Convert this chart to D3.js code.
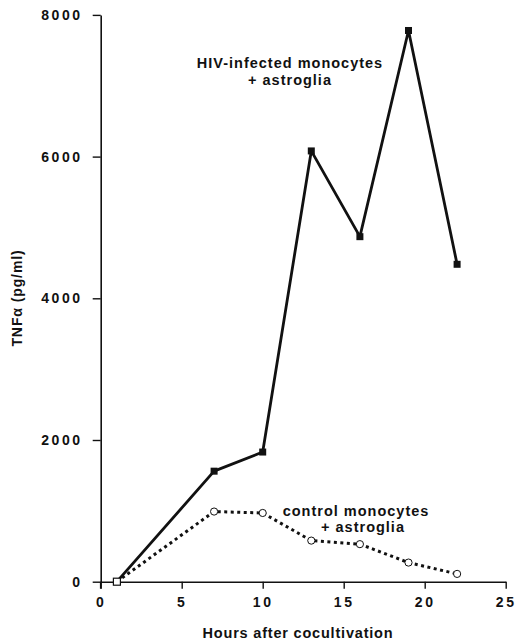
<!DOCTYPE html>
<html>
<head>
<meta charset="utf-8">
<script src="https://cdn.jsdelivr.net/npm/d3@7"></script>
<style>
  body { margin: 0; background: #fff; }
  text { font-family: "Liberation Sans", Arial, sans-serif; font-weight: bold; fill: #111; }
</style>
</head>
<body>
<div class="canvas"></div>
<script>
// data
const hours = [1, 7, 10, 13, 16, 19, 22];
const hivValues = [0, 1560, 1830, 6080, 4870, 7780, 4480];
const controlValues = [0, 990, 970, 580, 530, 270, 110];
const xTicks = [0, 5, 10, 15, 20, 25];
const yTicks = [0, 2000, 4000, 6000, 8000];

const dims = { width: 518, height: 644 };
const plot = { left: 100.7, right: 505.7, top: 14.9, bottom: 581.7 };

const svg = d3.select('.canvas')
    .append('svg')
    .attr('width', dims.width)
    .attr('height', dims.height);

const x = d3.scaleLinear().domain([0, 25]).range([plot.left, plot.right]);
const y = d3.scaleLinear().domain([0, 8000]).range([plot.bottom, plot.top]);

// x axis
const xAxis = svg.append('g')
    .attr('transform', `translate(0, ${plot.bottom})`)
    .call(d3.axisBottom(x).tickValues(xTicks).tickFormat(d3.format('d'))
        .tickSize(7).tickSizeOuter(0).tickPadding(8));

// y axis
const yAxis = svg.append('g')
    .attr('transform', `translate(${plot.left}, 0)`)
    .call(d3.axisLeft(y).tickValues(yTicks).tickFormat(d3.format('d'))
        .tickSize(8).tickSizeOuter(0).tickPadding(10));

[xAxis, yAxis].forEach(a => {
    a.select('.domain').attr('stroke', '#111').attr('stroke-width', 1.6);
    a.selectAll('.tick line').attr('stroke', '#111').attr('stroke-width', 1.4);
    a.selectAll('.tick text')
        .style('font-size', '14px')
        .style('letter-spacing', '2.6px')
        .style('font-family', '"Liberation Sans", Arial, sans-serif')
        .style('font-weight', 'bold')
        .attr('fill', '#111');
});

// y axis extends a bit below the x axis
svg.append('line')
    .attr('x1', plot.left).attr('x2', plot.left)
    .attr('y1', plot.bottom).attr('y2', plot.bottom + 7)
    .attr('stroke', '#111').attr('stroke-width', 1.6);

// axis titles
svg.append('text')
    .attr('x', 298).attr('y', 638)
    .attr('text-anchor', 'middle')
    .style('font-size', '14.5px')
    .style('letter-spacing', '0.8px')
    .text('Hours after cocultivation');

svg.append('text')
    .attr('transform', 'translate(22, 298) rotate(-90)')
    .attr('text-anchor', 'middle')
    .style('font-size', '14px')
    .style('letter-spacing', '0.9px')
    .text('TNFα (pg/ml)');

const line = d3.line()
    .x(d => x(d[0]))
    .y(d => y(d[1]));

const hivPts = hours.map((h, i) => [h, hivValues[i]]);
const ctlPts = hours.map((h, i) => [h, controlValues[i]]);

// control (dotted)
svg.append('path')
    .datum(ctlPts)
    .attr('d', line)
    .attr('fill', 'none')
    .attr('stroke', '#111')
    .attr('stroke-width', 3)
    .attr('stroke-dasharray', '3,3.5');

// HIV (solid)
svg.append('path')
    .datum(hivPts)
    .attr('d', line)
    .attr('fill', 'none')
    .attr('stroke', '#111')
    .attr('stroke-width', 2.8)
    .attr('stroke-linejoin', 'round');

// markers
svg.selectAll('.ctl')
    .data(ctlPts.slice(1))
    .enter().append('circle')
    .attr('cx', d => x(d[0]))
    .attr('cy', d => y(d[1]))
    .attr('r', 3.6)
    .attr('fill', '#fff')
    .attr('stroke', '#111')
    .attr('stroke-width', 1);

svg.selectAll('.hiv')
    .data(hivPts.slice(1))
    .enter().append('rect')
    .attr('x', d => x(d[0]) - 3.5)
    .attr('y', d => y(d[1]) - 3.5)
    .attr('width', 7)
    .attr('height', 7)
    .attr('fill', '#111');

// start point (open square)
svg.append('rect')
    .attr('x', x(hours[0]) - 3.5)
    .attr('y', y(0) - 3.5)
    .attr('width', 7)
    .attr('height', 7)
    .attr('fill', '#fff')
    .attr('stroke', '#111')
    .attr('stroke-width', 1.2);

// annotations
const notes = [
    { x: 290, y: 68, t: 'HIV-infected monocytes' },
    { x: 290, y: 85, t: '+ astroglia' },
    { x: 356, y: 516, t: 'control monocytes' },
    { x: 363, y: 532, t: '+ astroglia' }
];
svg.selectAll('.note')
    .data(notes)
    .enter().append('text')
    .attr('x', d => d.x)
    .attr('y', d => d.y)
    .attr('text-anchor', 'middle')
    .style('font-size', '14.5px')
    .style('letter-spacing', '1px')
    .text(d => d.t);
</script>
</body>
</html>
